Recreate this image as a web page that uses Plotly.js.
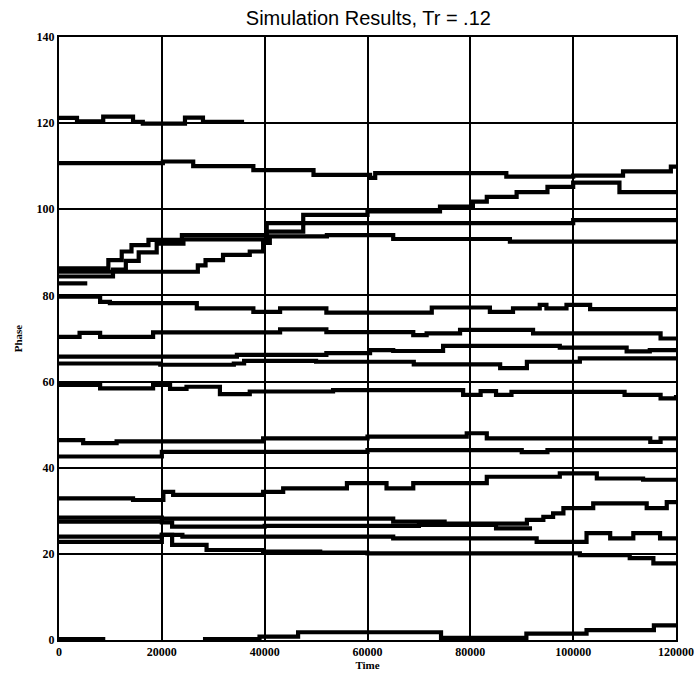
<!DOCTYPE html>
<html>
<head>
<meta charset="utf-8">
<script src="https://cdn.plot.ly/plotly-3.0.1.min.js"></script>
<style>html,body{margin:0;padding:0;background:#fff;}#chart{width:699px;height:675px;}</style>
</head>
<body>
<div id="chart"></div>
<script>
// ---- data (time, phase) breakpoints of step series ----
const xTicks = [0, 20000, 40000, 60000, 80000, 100000, 120000];
const yTicks = [0, 20, 40, 60, 80, 100, 120, 140];

const s120_t = [0, 3500, 8600, 14400, 16300, 24500, 28000, 36000];
const s120_y = [121.2, 120.4, 121.5, 120.3, 119.9, 121.3, 120.3, 120.3];

const s110_t = [0, 20200, 26100, 37800, 49500, 60500, 61500, 87000, 100000, 109700, 119000, 120000];
const s110_y = [110.7, 111.1, 110.0, 109.1, 108.0, 107.3, 108.4, 107.6, 107.8, 108.8, 109.9, 109.9];

const sB_t = [0, 9600, 12200, 14100, 17400, 23900, 40400, 47500, 60000, 74100, 80500, 83200, 89000, 95000, 100000, 109000, 120000];
const sB_y = [86.3, 88.2, 90.2, 91.7, 92.9, 94.0, 96.8, 98.7, 99.5, 100.6, 101.8, 102.9, 104.0, 105.2, 106.2, 104.0, 104.5];

const sD_t = [0, 10500, 13000, 15500, 19000, 24200, 40400, 47500, 70000, 100000, 120000];
const sD_y = [84.4, 86.0, 88.0, 90.0, 92.0, 93.0, 94.8, 96.8, 96.8, 97.5, 97.5];

const sC_t = [0, 27000, 28500, 31900, 37100, 39700, 41000, 52100, 65000, 87700, 120000];
const sC_y = [85.5, 87.0, 88.2, 89.4, 90.2, 92.2, 93.7, 94.0, 93.1, 92.5, 92.9];

const sS_t = [0, 5500];
const sS_y = [82.8, 82.8];

const sF_t = [0, 8000, 9900, 26800, 37800, 43000, 52000, 72500, 83800, 88300, 93500, 94800, 98700, 103300, 120000];
const sF_y = [79.7, 78.5, 78.2, 77.0, 76.2, 77.0, 76.0, 77.2, 76.2, 77.0, 77.8, 77.0, 77.8, 76.8, 76.8];

const sG_t = [0, 4000, 8000, 18300, 43000, 52000, 68900, 71500, 78000, 92200, 117000, 120000];
const sG_y = [70.4, 71.3, 70.4, 71.4, 72.1, 71.5, 70.8, 71.2, 72.0, 71.2, 70.0, 70.0];

const sH_t = [0, 34600, 50100, 52000, 60500, 65000, 74700, 97400, 110400, 114900, 120000];
const sH_y = [65.8, 66.2, 66.2, 66.6, 67.3, 67.1, 68.3, 67.9, 67.0, 67.3, 67.3];

const sI_t = [0, 19700, 34000, 36000, 50000, 69000, 85800, 91000, 101300, 120000];
const sI_y = [64.2, 63.9, 64.2, 64.8, 64.6, 64.0, 63.1, 64.6, 65.4, 65.4];

const sJ_t = [0, 8000, 18300, 21600, 24800, 31300, 37100, 53300, 60000, 78600, 82000, 85000, 88000, 110000, 117000, 120000];
const sJ_y = [59.2, 58.4, 59.2, 58.3, 58.8, 57.1, 57.7, 58.0, 58.0, 56.9, 57.8, 56.9, 57.6, 56.9, 56.1, 56.9];

const sK_t = [0, 4700, 11200, 39700, 60000, 79300, 83200, 115000, 117000, 120000];
const sK_y = [46.4, 45.7, 46.1, 46.8, 47.2, 48.0, 46.8, 46.0, 46.8, 46.8];

const sL_t = [0, 20000, 60000, 90000, 95000, 120000];
const sL_y = [42.6, 43.7, 44.1, 43.6, 44.1, 44.1];

const sM_t = [0, 14400, 20300, 22200, 39700, 43600, 56000, 63700, 68900, 83200, 97400, 104600, 113600, 120000];
const sM_y = [32.9, 32.5, 34.4, 33.7, 34.4, 35.2, 36.4, 35.2, 36.4, 37.9, 38.7, 37.5, 37.2, 37.2];

const sN_t = [0, 20000, 60000, 65000, 75000, 91000, 94200, 96100, 98100, 103900, 114300, 118200, 120000];
const sN_y = [28.4, 28.2, 28.2, 27.5, 27.0, 27.9, 28.6, 29.4, 30.6, 31.7, 30.6, 32.0, 32.0];

const sO_t = [0, 20000, 22000, 40000, 70000, 85000, 92000];
const sO_y = [27.5, 27.3, 26.3, 26.5, 26.7, 25.9, 25.9];

const sP_t = [0, 20000, 24000, 65000, 92900, 102600, 107200, 111700, 116900, 120000];
const sP_y = [24.0, 24.4, 24.0, 23.6, 22.8, 24.8, 23.6, 24.8, 23.6, 23.6];

const sQ_t = [0, 20000, 22000, 28700, 39700, 50800, 60000, 101300, 111000, 115600, 120000];
const sQ_y = [22.8, 24.4, 22.1, 20.9, 20.5, 20.3, 20.1, 19.7, 19.0, 17.8, 17.8];

const sR_t = [0, 9000, 9001, 28000, 39000, 46500, 74300, 90900, 102600, 115700, 120000];
const sR_y = [0.2, 0.2, null, 0.2, 0.8, 1.8, 0.5, 1.5, 2.3, 3.4, 3.4];

const series = [
  [s120_t, s120_y], [s110_t, s110_y], [sB_t, sB_y], [sD_t, sD_y], [sC_t, sC_y],
  [sS_t, sS_y], [sF_t, sF_y], [sG_t, sG_y], [sH_t, sH_y], [sI_t, sI_y],
  [sJ_t, sJ_y], [sK_t, sK_y], [sL_t, sL_y], [sM_t, sM_y], [sN_t, sN_y],
  [sO_t, sO_y], [sP_t, sP_y], [sQ_t, sQ_y], [sR_t, sR_y]
];

const traces = series.map(s => ({
  type: 'scatter', mode: 'lines', x: s[0], y: s[1],
  line: {shape: 'hv', color: '#000', width: 4.2},
  connectgaps: false, hoverinfo: 'skip', showlegend: false
}));

const tickFont = {family: 'Liberation Serif, Times New Roman, serif', size: 12, color: '#000', weight: 'bold'};
const layout = {
  width: 699, height: 675,
  margin: {l: 59, r: 23, t: 37, b: 35},
  paper_bgcolor: '#fff', plot_bgcolor: '#fff',
  title: {text: 'Simulation Results, Tr = .12', x: 0.527, xanchor: 'center', y: 0.974, yanchor: 'middle',
          font: {family: 'Liberation Sans, Arial, sans-serif', size: 20, color: '#000'}},
  xaxis: {range: [0, 120000], tickvals: xTicks, ticktext: xTicks.map(String),
          showgrid: true, gridcolor: '#000', gridwidth: 2, zeroline: false,
          showline: true, mirror: true, linecolor: '#000', linewidth: 2, ticks: '',
          tickfont: tickFont,
          title: {text: 'Time', standoff: 1, font: {family: 'Liberation Serif, serif', size: 11, color: '#000', weight: 'bold'}}},
  yaxis: {range: [0, 140], tickvals: yTicks, ticktext: yTicks.map(String),
          showgrid: true, gridcolor: '#000', gridwidth: 2, zeroline: false,
          showline: true, mirror: true, linecolor: '#000', linewidth: 2, ticks: '',
          tickfont: tickFont,
          title: {text: 'Phase', standoff: 12, font: {family: 'Liberation Serif, serif', size: 11, color: '#000', weight: 'bold'}}}
};

Plotly.newPlot('chart', traces, layout, {displayModeBar: false, staticPlot: true});
</script>
</body>
</html>
